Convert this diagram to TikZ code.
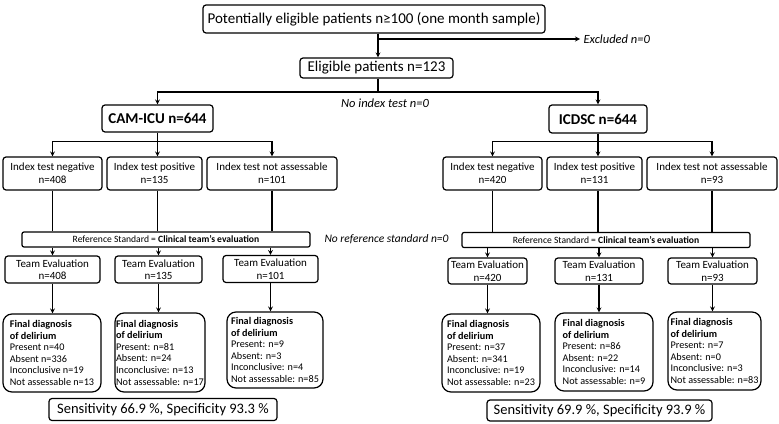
\documentclass[tikz,border=0pt]{standalone}
\usepackage{fontspec}
\setmainfont{Carlito}
\usetikzlibrary{arrows, positioning}
\tikzstyle{box} = [
  rectangle,
  rounded corners=3pt,
  draw=black,
  line width=1.2pt,
  align=center,
  inner sep=1pt
]
\tikzstyle{bigbox} = [box, font=\fontsize{15}{17}\selectfont]
\tikzstyle{testbox} = [box, font=\fontsize{15}{17}\selectfont\bfseries]
\tikzstyle{indexbox} = [box, minimum height=33pt, font=\fontsize{11}{13}\selectfont]
\tikzstyle{refbox} = [box, rounded corners=2pt, minimum width=288pt, minimum height=15pt, font=\fontsize{9.6}{11}\selectfont]
\tikzstyle{teambox} = [box, minimum height=27pt, font=\fontsize{11}{12.5}\selectfont]
\tikzstyle{finalbox} = [box, rounded corners=9pt, align=left, minimum height=78pt, font=\fontsize{10.2}{11.6}\selectfont]
\tikzstyle{resultbox} = [box, minimum height=22pt, font=\fontsize{14.5}{16}\selectfont]
\tikzstyle{note} = [font=\fontsize{12.5}{14}\selectfont\itshape]
\tikzstyle{line} = [line width=1.2pt]
\tikzstyle{arrow} = [line width=1.2pt, ->, >=stealth]

\begin{document}
\begin{tikzpicture}[x=1pt, y=-1pt]
    \useasboundingbox (0,0) rectangle (779,423);

    \node (potential-patients) [bigbox, minimum width=342pt, minimum height=28pt] at (374,19) {Potentially eligible patients n≥100 (one month sample)};
    \node (eligible-patients) [bigbox, minimum width=153pt, minimum height=20pt] at (376.5,68) {Eligible patients n=123};
    \node (excluded) [note, anchor=west] at (580,39) {Excluded n=0};
    \node (no-index-test) [note] at (385,103) {No index test n=0};
    \node (no-reference) [note, font=\fontsize{11.5}{13}\selectfont\itshape] at (386.5,239) {No reference standard n=0};

    % CAM-ICU branch
    \node (cam-icu) [testbox, minimum width=111pt, minimum height=27pt] at (157.5,118.5) {CAM-ICU n=644};
    \node (cam-negative) [indexbox, minimum width=99pt] at (52.5,173.5) {Index test negative\\n=408};
    \node (cam-positive) [indexbox, minimum width=95pt] at (154.5,173.5) {Index test positive\\n=135};
    \node (cam-not-assessable) [indexbox, minimum width=130pt] at (272,173.5) {Index test not assessable\\n=101};
    \node (cam-reference) [refbox] at (166,239.5) {Reference Standard = \textbf{Clinical team’s evaluation}};
    \node (cam-team-negative) [teambox, minimum width=95pt] at (52.5,269.5) {Team Evaluation\\n=408};
    \node (cam-team-positive) [teambox, minimum width=87pt] at (158.5,269.5) {Team Evaluation\\n=135};
    \node (cam-team-not-assessable) [teambox, minimum width=95pt] at (270.5,269) {Team Evaluation\\n=101};
    \node (cam-final-negative) [finalbox, minimum width=98pt] at (52,353) {\textbf{Final diagnosis}\\\textbf{of delirium}\\Present n=40\\Absent n=336\\Inconclusive n=19\\Not assessable n=13};
    \node (cam-final-positive) [finalbox, minimum width=90pt, minimum height=79pt] at (160,352.5) {\textbf{Final diagnosis}\\\textbf{of delirium}\\Present: n=81\\Absent: n=24\\Inconclusive: n=13\\Not assessable: n=17};
    \node (cam-final-not-assessable) [finalbox, minimum width=96pt, minimum height=76pt] at (275,350) {\textbf{Final diagnosis}\\\textbf{of delirium}\\Present: n=9\\Absent: n=3\\Inconclusive: n=4\\Not assessable: n=85};
    \node (cam-result) [resultbox, minimum width=228pt] at (163,409.5) {Sensitivity 66.9 \%, Specificity 93.3 \%};

    % ICDSC branch
    \node (icdsc) [testbox, minimum width=98pt, minimum height=28pt] at (598,119) {ICDSC n=644};
    \node (icdsc-negative) [indexbox, minimum width=99pt] at (492.5,173.5) {Index test negative\\n=420};
    \node (icdsc-positive) [indexbox, minimum width=95pt] at (594.5,173.5) {Index test positive\\n=131};
    \node (icdsc-not-assessable) [indexbox, minimum width=130pt] at (712,173.5) {Index test not assessable\\n=93};
    \node (icdsc-reference) [refbox] at (606,240) {Reference Standard = \textbf{Clinical team’s evaluation}};
    \node (icdsc-team-negative) [teambox, minimum width=79pt, minimum height=26pt] at (487.5,271) {Team Evaluation\\n=420};
    \node (icdsc-team-positive) [teambox, minimum width=88pt, minimum height=26pt] at (599,271) {Team Evaluation\\n=131};
    \node (icdsc-team-not-assessable) [teambox, minimum width=89pt, minimum height=26pt] at (712.5,271) {Team Evaluation\\n=93};
    \node (icdsc-final-negative) [finalbox, minimum width=98pt] at (491,353) {\textbf{Final diagnosis}\\\textbf{of delirium}\\Present: n=37\\Absent: n=341\\Inconclusive: n=19\\Not assessable: n=23};
    \node (icdsc-final-positive) [finalbox, minimum width=98pt] at (604,352) {\textbf{Final diagnosis}\\\textbf{of delirium}\\Present: n=86\\Absent: n=22\\Inconclusive: n=14\\Not assessable: n=9};
    \node (icdsc-final-not-assessable) [finalbox, minimum width=93pt] at (714.5,351) {\textbf{Final diagnosis}\\\textbf{of delirium}\\Present: n=7\\Absent: n=0\\Inconclusive: n=3\\Not assessable: n=83};
    \node (icdsc-result) [resultbox, minimum width=225pt, minimum height=21pt] at (599.5,410.5) {Sensitivity 69.9 \%, Specificity 93.9 \%};

    \coordinate (excluded-split) at (378,39);
    \coordinate (test-split) at (378,92);
    \coordinate (cam-split) at (157.5,141.5);
    \coordinate (icdsc-split) at (598,141.5);

    \draw [line] (potential-patients.south -| excluded-split) -- (excluded-split);
    \draw [arrow] (excluded-split) -- (eligible-patients.north -| excluded-split);
    \draw [arrow] (excluded-split) -- (excluded.west);
    \draw [line] (eligible-patients.south -| test-split) -- (test-split);
    \draw [arrow] (test-split) -| (cam-icu);
    \draw [arrow] (test-split) -| (icdsc);

    \draw [line] (cam-icu) -- (cam-split);
    \draw [arrow] (cam-split) -| (cam-negative);
    \draw [arrow] (cam-split) -- (cam-split |- cam-positive.north);
    \draw [arrow] (cam-split) -| (cam-not-assessable);
    \draw [line] (cam-negative) -- (cam-negative |- cam-reference.north);
    \draw [line] (cam-split |- cam-positive.south) -- (cam-split |- cam-reference.north);
    \draw [line] (cam-not-assessable) -- (cam-not-assessable |- cam-reference.north);
    \draw [arrow] (cam-reference.south -| cam-team-negative) -- (cam-team-negative);
    \draw [arrow] (cam-reference.south -| cam-team-positive) -- (cam-team-positive);
    \draw [arrow] (cam-reference.south -| cam-team-not-assessable) -- (cam-team-not-assessable);
    \draw [arrow] (cam-team-negative) -- (cam-team-negative |- cam-final-negative.north);
    \draw [arrow] (cam-team-positive) -- (cam-team-positive |- cam-final-positive.north);
    \draw [arrow] (cam-team-not-assessable) -- (cam-team-not-assessable |- cam-final-not-assessable.north);

    \draw [line] (icdsc) -- (icdsc-split);
    \draw [arrow] (icdsc-split) -| (icdsc-negative);
    \draw [arrow] (icdsc-split) -- (icdsc-split |- icdsc-positive.north);
    \draw [arrow] (icdsc-split) -| (icdsc-not-assessable);
    \draw [line] (icdsc-negative) -- (icdsc-negative |- icdsc-reference.north);
    \draw [line] (icdsc-split |- icdsc-positive.south) -- (icdsc-split |- icdsc-reference.north);
    \draw [line] (icdsc-not-assessable) -- (icdsc-not-assessable |- icdsc-reference.north);
    \draw [arrow] (icdsc-reference.south -| icdsc-team-negative) -- (icdsc-team-negative);
    \draw [arrow] (icdsc-reference.south -| icdsc-team-positive) -- (icdsc-team-positive);
    \draw [arrow] (icdsc-reference.south -| icdsc-team-not-assessable) -- (icdsc-team-not-assessable);
    \draw [arrow] (icdsc-team-negative) -- (icdsc-team-negative |- icdsc-final-negative.north);
    \draw [arrow] (icdsc-team-positive) -- (icdsc-team-positive |- icdsc-final-positive.north);
    \draw [arrow] (icdsc-team-not-assessable) -- (icdsc-team-not-assessable |- icdsc-final-not-assessable.north);
\end{tikzpicture}
\end{document}
